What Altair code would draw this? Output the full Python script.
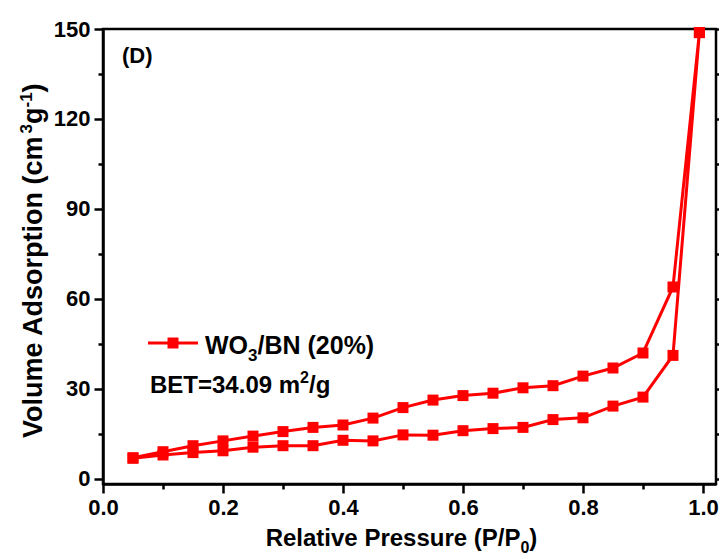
import altair as alt
import pandas as pd

# ---- data ----
ads_x = [0.05, 0.10, 0.15, 0.20, 0.25, 0.30, 0.35, 0.40, 0.45, 0.50,
         0.55, 0.60, 0.65, 0.70, 0.75, 0.80, 0.85, 0.90, 0.95, 0.994]
ads_y = [6.9, 8.0, 8.8, 9.4, 10.6, 11.1, 11.1, 12.9, 12.7, 14.7,
         14.6, 16.1, 16.8, 17.2, 19.8, 20.4, 24.3, 27.3, 41.2, 148.8]
des_x = [0.994, 0.95, 0.90, 0.85, 0.80, 0.75, 0.70, 0.65, 0.60, 0.55,
         0.50, 0.45, 0.40, 0.35, 0.30, 0.25, 0.20, 0.15, 0.10, 0.05]
des_y = [148.8, 64.0, 42.0, 37.0, 34.3, 31.1, 30.4, 28.6, 27.8, 26.3,
         23.8, 20.3, 18.0, 17.2, 15.8, 14.3, 12.7, 11.1, 9.1, 7.1]

x_major = [0.0, 0.2, 0.4, 0.6, 0.8, 1.0]
x_minor = [0.1, 0.3, 0.5, 0.7, 0.9]
y_major = [0, 30, 60, 90, 120, 150]
y_minor = [15, 45, 75, 105, 135]
y_right = [0, 15, 30, 45, 60, 75, 90, 105, 120, 135, 150]

bet_text = "BET=34.09 m"

rows = []
for i, (px, vy) in enumerate(zip(ads_x, ads_y)):
    rows.append({"p": px, "v": vy, "o": i})
n = len(rows)
for j, (px, vy) in enumerate(zip(des_x, des_y)):
    rows.append({"p": px, "v": vy, "o": n + j})
df = pd.DataFrame(rows)

# ---- layout ----
W, H = 613, 455
XMAX = 1.0217
YMIN = -1.67
FONT = "Liberation Sans, Arial, sans-serif"
RED = "#ff0000"

xs = alt.Scale(domain=[0, XMAX], nice=False, zero=False)
ys = alt.Scale(domain=[YMIN, 150], nice=False, zero=False)

AW = {' ': 278, '(': 333, ')': 333, '/': 278, '%': 889, '=': 584, '.': 278, '-': 333,
      'A': 722, 'B': 722, 'D': 722, 'E': 667, 'N': 722, 'O': 778, 'P': 667, 'R': 722,
      'T': 611, 'V': 667, 'W': 944, 'a': 556, 'c': 556, 'd': 611, 'e': 556, 'g': 611,
      'i': 278, 'l': 278, 'm': 889, 'n': 611, 'o': 611, 'p': 611, 'r': 389, 's': 556,
      't': 333, 'u': 611, 'v': 556}


def tw(s, size):
    return sum(AW.get(c, 556) for c in s) * size / 1000.0


one = pd.DataFrame({"k": [0]})


def txt(s, x, y, size, angle=0):
    return alt.Chart(one).mark_text(
        font=FONT, fontSize=size, fontWeight="bold", color="black",
        align="left", baseline="alphabetic", angle=angle
    ).encode(x=alt.value(x), y=alt.value(y), text=alt.value(s))


def axis_common(**kw):
    base = dict(title=None, grid=False, domainColor="black", domainWidth=2.5,
                tickColor="black", tickWidth=2.5, labelFont=FONT, labelFontSize=22,
                labelFontWeight="bold", labelColor="black", labelFlush=False,
                labelOverlap=False)
    base.update(kw)
    return alt.Axis(**base)


base = alt.Chart(df)

line = base.mark_line(color=RED, strokeWidth=3).encode(
    x=alt.X("p:Q", scale=xs, axis=axis_common(orient="bottom", values=x_major, format=".1f",
                                                 tickSize=9, labelPadding=4)),
    y=alt.Y("v:Q", scale=ys, axis=axis_common(orient="left", values=y_major, format="d",
                                                 tickSize=9, labelPadding=4)),
    order=alt.Order("o:Q"),
)
pts = base.mark_square(color=RED, size=121, opacity=1).encode(
    x=alt.X("p:Q", scale=xs, axis=None),
    y=alt.Y("v:Q", scale=ys, axis=None),
)
minor_x = base.mark_point(opacity=0).encode(
    x=alt.X("p:Q", scale=xs, axis=axis_common(orient="bottom", values=x_minor, labels=False,
                                                 domain=False, tickSize=5)),
    y=alt.Y("v:Q", scale=ys, axis=None),
)
minor_y = base.mark_point(opacity=0).encode(
    x=alt.X("p:Q", scale=xs, axis=None),
    y=alt.Y("v:Q", scale=ys, axis=axis_common(orient="left", values=y_minor, labels=False,
                                                 domain=False, tickSize=5)),
)
right_y = base.mark_point(opacity=0).encode(
    x=alt.X("p:Q", scale=xs, axis=None),
    y=alt.Y("v:Q", scale=ys, axis=axis_common(orient="right", values=y_right, labels=False,
                                                 domain=False, tickSize=4)),
)

# ---- annotations (titles with sub/superscripts, legend, panel label) ----
layers = [line, pts, minor_x, minor_y, right_y]

# panel label
layers.append(txt("(D)", 19, 34, 22))

# x title: Relative Pressure (P/P0)
s_main, s_sub = 24, 16
m1 = "Relative Pressure (P/P"
total = tw(m1, s_main) + tw("0", s_sub) + tw(")", s_main)
x0 = 298.5 - total / 2
yb = 517
layers.append(txt(m1, x0, yb, s_main))
x1 = x0 + tw(m1, s_main)
layers.append(txt("0", x1, yb + 7, s_sub))
x2 = x1 + tw("0", s_sub)
layers.append(txt(")", x2, yb, s_main))

# y title (rotated): Volume Adsorption (cm3g-1)
t_main, t_sup = 27, 17
xb = -61
ys0 = 409
p1 = "Volume Adsorption (cm"
layers.append(txt(p1, xb, ys0, t_main, angle=270))
cur = ys0 - tw(p1, t_main)
layers.append(txt("3", xb - 10, cur, t_sup, angle=270))
cur -= tw("3", t_sup)
layers.append(txt("g", xb, cur, t_main, angle=270))
cur -= tw("g", t_main)
layers.append(txt("-1", xb - 10, cur, t_sup, angle=270))
cur -= tw("-1", t_sup)
layers.append(txt(")", xb, cur, t_main, angle=270))

# legend
layers.append(alt.Chart(one).mark_rule(color=RED, strokeWidth=3).encode(
    x=alt.value(45), x2=alt.value(95), y=alt.value(314)))
layers.append(alt.Chart(one).mark_square(color=RED, size=121, opacity=1).encode(
    x=alt.value(70), y=alt.value(314)))
l_size, l_sub = 25, 17
lx, ly = 102, 325
layers.append(txt("WO", lx, ly, l_size))
cx = lx + tw("WO", l_size)
layers.append(txt("3", cx, ly + 7, l_sub))
cx += tw("3", l_sub)
layers.append(txt("/BN (20%)", cx, ly, l_size))

b_size, b_sup = 24, 16
bx, by = 47, 364
layers.append(txt(bet_text, bx, by, b_size))
cx = bx + tw(bet_text, b_size)
layers.append(txt("2", cx, by - 10, b_sup))
cx += tw("2", b_sup)
layers.append(txt("/g", cx, by, b_size))

chart = alt.layer(*layers).resolve_axis(x="independent", y="independent").properties(
    width=W, height=H,
    autosize=alt.AutoSizeParams(type="none"),
    padding={"left": 95, "top": 21, "right": 3, "bottom": 80},
    background="white",
).configure_view(stroke="black", strokeWidth=2.5)

chart.save("out.html", embed_options={"renderer": "svg", "actions": False})
